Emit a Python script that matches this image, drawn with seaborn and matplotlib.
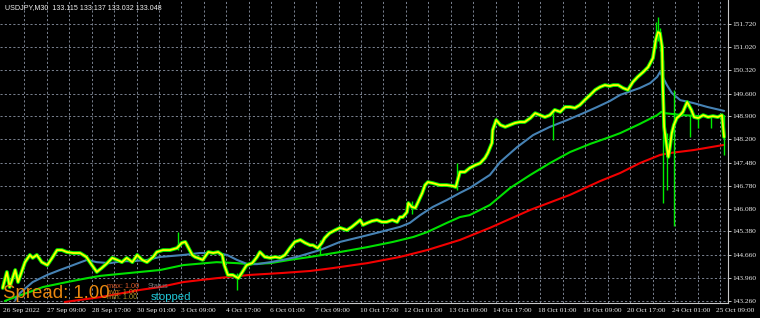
import numpy as np
import pandas as pd
import matplotlib
matplotlib.use("Agg")
import matplotlib.pyplot as plt
import seaborn as sns

sns.set_theme(style="dark")
plt.rcParams['font.family'] = ['Liberation Sans', 'DejaVu Sans']

# ---------------- data ----------------
title_text = "USDJPY,M30  133.115 133.137 133.032 133.048"

x_labels = ["26 Sep 2022", "27 Sep 09:00", "28 Sep 17:00", "30 Sep 01:00", "3 Oct 09:00",
            "4 Oct 17:00", "6 Oct 01:00", "7 Oct 09:00", "10 Oct 17:00", "12 Oct 01:00",
            "13 Oct 09:00", "14 Oct 17:00", "18 Oct 01:00", "19 Oct 09:00", "20 Oct 17:00",
            "24 Oct 01:00", "25 Oct 09:00"]
x_label_bars = [0, 64, 128, 192, 256, 320, 384, 448, 512, 576, 640, 704, 768, 832, 896, 960, 1024]

y_ticks = [143.260, 143.960, 144.660, 145.380, 146.080, 146.780, 147.480,
           148.200, 148.900, 149.600, 150.320, 151.020, 151.720]

close_bar = [0, 6, 10, 18, 22, 32, 39, 43, 49, 56, 64, 71, 78, 85, 92, 101, 111, 120, 128, 135,
             142, 150, 157, 164, 171, 178, 186, 193, 200, 207, 216, 221, 230, 240, 250, 257, 262,
             266, 272, 276, 280, 287, 295, 302, 309, 315, 318, 323, 330, 338, 343, 350, 358, 365,
             369, 376, 384, 391, 398, 405, 412, 419, 427, 434, 441, 445, 452, 458, 462, 469, 477,
             484, 494, 501, 508, 513, 517, 523, 530, 537, 544, 551, 559, 566, 570, 574, 580, 582,
             587, 592, 596, 602, 606, 610, 617, 627, 637, 646, 650, 656, 663, 670, 678, 685, 692,
             696, 702, 703, 708, 714, 721, 728, 735, 742, 749, 757, 764, 771, 778, 785, 792, 800,
             807, 814, 821, 828, 835, 843, 850, 857, 864, 871, 876, 883, 890, 897, 904, 911, 919,
             926, 933, 937, 940, 943, 946, 947, 949, 952, 955, 957, 960, 963, 967, 972, 976, 982,
             988, 992, 998, 1005, 1012, 1019, 1026, 1032, 1035]
close_px = [143.65, 144.14, 143.68, 144.20, 143.83, 144.44, 144.66, 144.57, 144.66, 144.44,
            144.35, 144.57, 144.81, 144.81, 144.75, 144.72, 144.72, 144.60, 144.35, 144.14,
            144.26, 144.41, 144.57, 144.51, 144.44, 144.57, 144.44, 144.66, 144.51, 144.44,
            144.60, 144.75, 144.81, 144.81, 144.87, 145.03, 145.06, 144.90, 144.66, 144.60,
            144.57, 144.51, 144.75, 144.72, 144.75, 144.66, 144.35, 144.05, 144.05, 143.95,
            144.11, 144.35, 144.41, 144.60, 144.75, 144.60, 144.57, 144.60, 144.57, 144.66,
            144.87, 145.06, 145.12, 145.03, 144.96, 144.96, 144.87, 145.03, 145.18, 145.33,
            145.42, 145.49, 145.42, 145.52, 145.64, 145.73, 145.58, 145.64, 145.70, 145.73,
            145.67, 145.67, 145.73, 145.67, 145.82, 145.82, 145.97, 146.25, 146.13, 146.10,
            146.28, 146.56, 146.80, 146.89, 146.86, 146.80, 146.80, 146.77, 146.74, 147.20,
            147.20, 147.32, 147.41, 147.47, 147.63, 147.78, 148.09, 148.48, 148.79, 148.64,
            148.58, 148.64, 148.70, 148.73, 148.73, 148.85, 149.00, 148.94, 148.88, 148.94,
            149.10, 149.04, 149.19, 149.19, 149.16, 149.25, 149.40, 149.56, 149.71, 149.80,
            149.86, 149.83, 149.86, 149.86, 149.77, 149.71, 149.95, 150.11, 150.26, 150.41,
            150.69, 151.24, 151.48, 151.45, 151.03, 149.92, 148.58, 148.09, 147.66, 147.93,
            148.39, 148.64, 148.85, 148.94, 149.04, 149.34, 149.10, 148.88, 148.85, 148.94,
            148.88, 148.91, 148.88, 148.94, 148.27]

ma_fast_bar = [18, 25, 43, 64, 82, 101, 121, 135, 154, 172, 187, 207, 226, 259, 283, 307, 322,
               336, 351, 365, 384, 402, 422, 441, 455, 484, 513, 541, 570, 584, 599, 617, 637,
               656, 670, 699, 714, 738, 761, 785, 810, 833, 853, 871, 886, 914, 929, 939, 943,
               947, 953, 960, 972, 991, 1011, 1029, 1035]
ma_fast = [143.28, 143.50, 143.83, 144.05, 144.20, 144.35, 144.51, 144.44, 144.41, 144.47,
           144.47, 144.51, 144.60, 144.66, 144.72, 144.72, 144.66, 144.51, 144.38, 144.38,
           144.44, 144.51, 144.60, 144.72, 144.81, 145.06, 145.21, 145.36, 145.52, 145.64,
           145.88, 146.13, 146.34, 146.56, 146.71, 147.11, 147.51, 147.96, 148.33, 148.58,
           148.79, 149.00, 149.19, 149.37, 149.56, 149.77, 149.92, 150.11, 150.26, 150.11,
           149.86, 149.62, 149.40, 149.31, 149.19, 149.10, 149.07]

ma_mid_bar = [3, 10, 35, 58, 92, 121, 140, 168, 197, 226, 259, 307, 336, 355, 384, 412, 441,
              484, 523, 560, 589, 609, 637, 656, 670, 699, 728, 757, 785, 814, 843, 871, 886,
              914, 939, 945, 950, 976, 1000, 1035]
ma_mid = [143.25, 143.31, 143.50, 143.68, 143.83, 143.95, 144.02, 144.08, 144.14, 144.20,
          144.35, 144.44, 144.41, 144.38, 144.41, 144.51, 144.60, 144.75, 144.90, 145.06,
          145.21, 145.36, 145.64, 145.82, 145.88, 146.19, 146.71, 147.11, 147.47, 147.81,
          148.06, 148.27, 148.39, 148.67, 148.94, 149.04, 149.00, 148.94, 148.91, 148.91]

ma_slow_bar = [89, 140, 197, 226, 259, 307, 355, 402, 441, 474, 523, 570, 609, 656, 699, 757,
               814, 857, 886, 914, 943, 957, 991, 1035]
ma_slow = [143.22, 143.37, 143.59, 143.68, 143.83, 143.95, 144.05, 144.11, 144.17, 144.26,
           144.41, 144.60, 144.81, 145.12, 145.49, 146.04, 146.50, 146.92, 147.17, 147.47,
           147.72, 147.78, 147.87, 148.03]

wick_bar = [252, 336, 455, 587, 652, 789, 937, 940, 943, 947, 953, 963, 986, 998, 1016, 1035]
wick_high = [145.36, 144.11, 145.12, 146.30, 147.47, 149.10, 151.80, 151.94, 151.60, 150.63,
             148.40, 149.71, 148.90, 148.95, 148.95, 148.94]
wick_low = [144.81, 143.59, 144.66, 145.90, 146.65, 148.18, 151.00, 151.20, 150.90, 146.25,
            146.65, 145.55, 148.27, 148.55, 148.55, 147.72]

# ---------------- figure ----------------
W, H = 760, 318
fig = plt.figure(figsize=(W / 100, H / 100), dpi=100, facecolor='black')
ax = fig.add_axes([0, 15 / H, 727.7 / W, 303 / H])
ax.set_facecolor('black')

grid_col = '#7a8290'
dash = (0, (2.2, 2.2))
for yv in y_ticks:
    ax.axhline(yv, color=grid_col, lw=0.7, ls=dash, zorder=0)
for k in range(32):
    ax.axvline(31 + 32.2 * k, color=grid_col, lw=0.7, ls=dash, zorder=0)

df_slow = pd.DataFrame({'bar': ma_slow_bar, 'v': ma_slow})
df_mid = pd.DataFrame({'bar': ma_mid_bar, 'v': ma_mid})
df_fast = pd.DataFrame({'bar': ma_fast_bar, 'v': ma_fast})
df_close = pd.DataFrame({'bar': close_bar, 'v': close_px})

sns.lineplot(data=df_slow, x='bar', y='v', color='#f20000', lw=1.5, ax=ax, estimator=None, zorder=2)
sns.lineplot(data=df_mid, x='bar', y='v', color='#00e000', lw=1.5, ax=ax, estimator=None, zorder=2)
sns.lineplot(data=df_fast, x='bar', y='v', color='#4682b4', lw=1.5, ax=ax, estimator=None, zorder=2)

ax.vlines(wick_bar, wick_low, wick_high, color='#00ee00', lw=1.0, zorder=3)
sns.lineplot(data=df_close, x='bar', y='v', color='#00ee00', lw=2.7, ax=ax, estimator=None, zorder=3)
sns.lineplot(data=df_close, x='bar', y='v', color='#ffff00', lw=1.3, ax=ax, estimator=None, zorder=4)

ax.set_xlim(-3.87, 1040.2)
ax.set_ylim(143.19, 152.464)
ax.set_xlabel('')
ax.set_ylabel('')
ax.grid(False)

for s in ['left', 'top']:
    ax.spines[s].set_visible(False)
for s in ['right', 'bottom']:
    ax.spines[s].set_visible(True)
    ax.spines[s].set_color('#c8c8c8')
    ax.spines[s].set_linewidth(0.8)

tick_font = dict(family=['Liberation Serif', 'DejaVu Serif'], size=5.3)
ax.set_xticks(x_label_bars)
ax.set_xticklabels(x_labels, ha='left', color='#f0f0f0', **tick_font)
ax.yaxis.tick_right()
ax.set_yticks(y_ticks)
ax.set_yticklabels([f"{v:.3f}" for v in y_ticks], color='#f0f0f0', **tick_font)
ax.tick_params(axis='x', colors='#c8c8c8', length=2.5, width=0.7, pad=1.2, labelcolor='#f0f0f0')
ax.tick_params(axis='y', colors='#c8c8c8', length=2.2, width=0.7, pad=1.5, labelcolor='#f0f0f0')


def px(x, y):
    return x / W, 1 - y / H


fig.text(*px(5, 9.5), title_text, color='#f0f0f0', fontsize=5.1, va='baseline', ha='left')
fig.text(*px(3, 298.5), "Spread: 1.00", color='#e8870e', fontsize=13.4, va='baseline', ha='left', zorder=10)
fig.text(*px(107, 288), "max: 1.00", color='#d8582a', fontsize=5.3, va='baseline', ha='left', zorder=10)
fig.text(*px(107, 293.5), "avg: 1.00", color='#c8801e', fontsize=5.3, va='baseline', ha='left', zorder=10)
fig.text(*px(107, 299), "min: 1.00", color='#a89028', fontsize=5.3, va='baseline', ha='left', zorder=10)
fig.text(*px(148, 288), "Status", color='#7a7a7a', fontsize=5.3, va='baseline', ha='left', zorder=10)
fig.text(*px(151, 300), "stopped", color='#20c8d8', fontsize=8.2, va='baseline', ha='left', zorder=10)

fig.savefig('out.png', dpi=100, facecolor='black')
